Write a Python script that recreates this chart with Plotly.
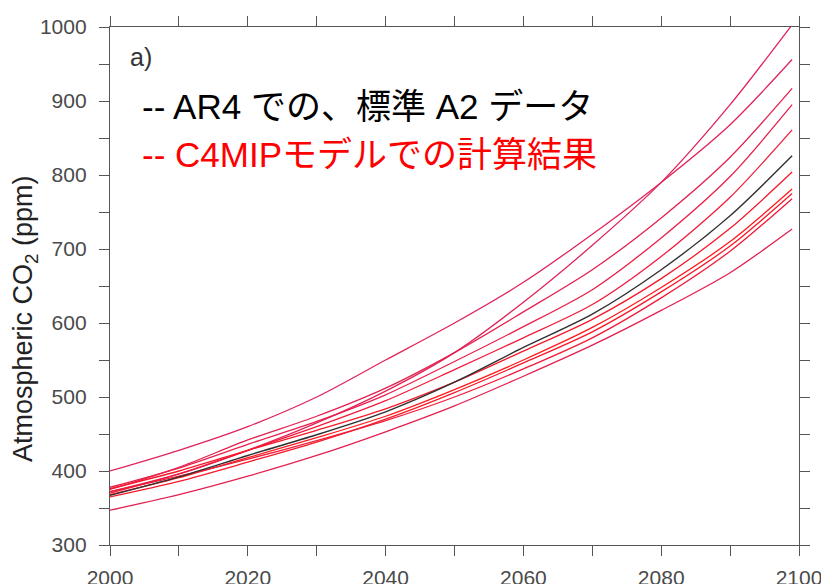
import plotly.graph_objects as go

# ---- data ----
years = [2000, 2010, 2020, 2030, 2040, 2050, 2060, 2070, 2080, 2090, 2099]

a2_standard = [367, 392, 421, 449, 480, 520, 567, 612, 672, 745, 826]

c4mip_1 = [372, 396, 428, 465, 508, 560, 628, 705, 790, 895, 1003]
c4mip_2 = [400, 428, 460, 500, 550, 600, 655, 720, 790, 868, 956]
c4mip_3 = [375, 405, 442, 474, 512, 560, 615, 672, 742, 824, 917]
c4mip_4 = [378, 404, 436, 467, 503, 548, 595, 645, 715, 798, 895]
c4mip_5 = [370, 396, 428, 460, 495, 537, 580, 625, 690, 770, 861]
c4mip_6 = [376, 400, 428, 455, 484, 520, 562, 605, 660, 728, 804]
c4mip_7 = [368, 391, 418, 445, 474, 510, 550, 594, 648, 710, 781]
c4mip_8 = [365, 386, 412, 439, 470, 506, 546, 588, 642, 704, 775]
c4mip_9 = [372, 393, 416, 441, 468, 500, 538, 580, 634, 697, 768]
c4mip_10 = [347, 368, 393, 421, 453, 488, 528, 570, 617, 668, 727]

c4mip_series = [c4mip_1, c4mip_2, c4mip_3, c4mip_4, c4mip_5,
                c4mip_6, c4mip_7, c4mip_8, c4mip_9, c4mip_10]
c4mip_colors = ["#e0245a", "#e0245a", "#e3204f", "#e8204a", "#f01c3c",
                "#f51a2a", "#ff1a1a", "#f51a2a", "#ee1c3a", "#e3204f"]

x_ticks = [2000, 2020, 2040, 2060, 2080, 2100]
y_ticks = [300, 400, 500, 600, 700, 800, 900, 1000]

legend_line1 = "-- AR4 での、標準 A2 データ"
legend_line2 = "-- C4MIPモデルでの計算結果"
panel_label = "a)"
y_title = "Atmospheric CO<sub>2</sub> (ppm)"

# ---- figure ----
# the page body has an 8 px margin, so the figure is sized/placed to compensate
OFF = 8
W, H = 829 - OFF, 584 - OFF
L, R, T, B = 110 - OFF, 30, 27 - OFF, 39
pw, ph = W - L - R, H - T - B

def px(xp):
    return (xp - OFF - L) / pw

def py(yp):
    return (H - B - (yp - OFF)) / ph

fig = go.Figure()
for vals, col in zip(c4mip_series, c4mip_colors):
    fig.add_trace(go.Scatter(x=years, y=vals, mode="lines",
                             line=dict(color=col, width=1.3, shape="spline", smoothing=0.8),
                             hoverinfo="skip", showlegend=False))
fig.add_trace(go.Scatter(x=years, y=a2_standard, mode="lines",
                         line=dict(color="#303030", width=1.4, shape="spline", smoothing=0.8),
                         hoverinfo="skip", showlegend=False))

axis_common = dict(
    showline=True, linecolor="#555555", linewidth=1.3, mirror="ticks",
    ticks="outside", ticklen=10, tickwidth=1.2, tickcolor="#555555",
    showgrid=False, zeroline=False, automargin=False,
    tickfont=dict(family="Liberation Sans, Arial, sans-serif", size=21, color="#4a4a4a"),
)

fig.update_xaxes(range=[2000, 2100], tickvals=x_ticks,
                 minor=dict(dtick=10, ticks="outside", ticklen=10, tickcolor="#555555", tickwidth=1.2, showgrid=False),
                 ticklabelstandoff=4, **axis_common)
fig.update_yaxes(range=[300, 1000], tickvals=y_ticks,
                 minor=dict(dtick=50, ticks="outside", ticklen=10, tickcolor="#555555", tickwidth=1.2, showgrid=False),
                 ticklabelstandoff=8, **axis_common)

fig.add_annotation(x=px(25), y=py(319), xref="paper", yref="paper",
                   text=y_title, textangle=-90, showarrow=False,
                   font=dict(family="Liberation Sans, Arial, sans-serif", size=27, color="#222222"),
                   xanchor="center", yanchor="middle")
fig.add_annotation(x=px(128), y=py(57), xref="paper", yref="paper",
                   text=panel_label, showarrow=False,
                   font=dict(family="Liberation Sans, Arial, sans-serif", size=25, color="#333333"),
                   xanchor="left", yanchor="middle")
fig.add_annotation(x=px(140), y=py(106), xref="paper", yref="paper",
                   text=legend_line1, showarrow=False,
                   font=dict(family="Liberation Sans, Noto Sans CJK JP, sans-serif", size=35, color="#000000"),
                   xanchor="left", yanchor="middle")
fig.add_annotation(x=px(140), y=py(155), xref="paper", yref="paper",
                   text=legend_line2, showarrow=False,
                   font=dict(family="Liberation Sans, Noto Sans CJK JP, sans-serif", size=35, color="#ff0000"),
                   xanchor="left", yanchor="middle")

fig.update_layout(width=W, height=H, margin=dict(l=L, r=R, t=T, b=B),
                  paper_bgcolor="white", plot_bgcolor="white", showlegend=False)

fig.write_html("out.html")
